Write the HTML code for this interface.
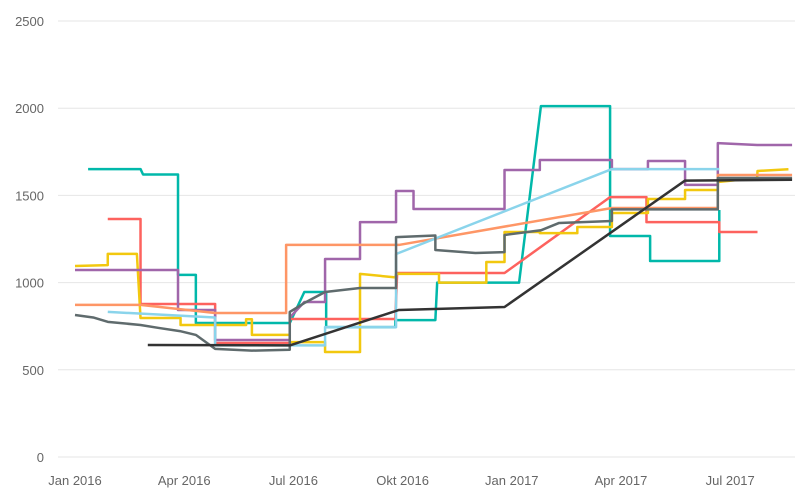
<!DOCTYPE html>
<html><head><meta charset="utf-8"><style>
body{margin:0;background:#fff;}
svg{display:block;font-family:"Liberation Sans",sans-serif;}
</style></head><body>
<svg id="chart" width="800" height="498" viewBox="0 0 800 498"></svg>
<script>
const yTicks=[0,500,1000,1500,2000,2500];
const xTickLabels=["Jan 2016","Apr 2016","Jul 2016","Okt 2016","Jan 2017","Apr 2017","Jul 2017"];
const xTickMonths=[0,3,6,9,12,15,18];
const seriesNames=["teal","red","yellow","purple","orange","lightblue","gray","black"];
const seriesColors=["#01b8aa","#fd625e","#f2c80f","#a066aa","#fe9666","#8ad4eb","#5f6b6d","#333333"];
const teal=[[0.36,1651],[1.8,1651],[1.87,1620],[2.83,1620],[2.83,1044],[3.32,1044],[3.32,768],[5.9,768],[6.3,946],[6.9,946],[6.9,745],[8.8,745],[8.8,785],[9.9,785],[9.95,1000],[12.2,1000],[12.8,2012],[14.7,2012],[14.7,1267],[15.8,1267],[15.8,1124],[17.7,1124],[17.7,1416]];
const red=[[0.9,1365],[1.8,1365],[1.8,877],[3.85,877],[3.85,654],[5.9,654],[5.9,791],[8.8,791],[8.85,1055],[11.8,1055],[14.7,1490],[15.7,1490],[15.7,1347],[17.7,1347],[17.7,1290],[18.75,1290]];
const yellow=[[0,1095],[0.9,1100],[0.9,1165],[1.7,1165],[1.8,797],[2.9,797],[2.9,757],[4.7,757],[4.7,790],[4.86,790],[4.86,700],[5.9,700],[5.9,659],[6.87,659],[6.87,602],[7.83,602],[7.83,1050],[8.8,1030],[8.82,1050],[10.0,1050],[10.0,1000],[11.3,1000],[11.3,1118],[11.8,1118],[11.8,1290],[12.77,1290],[12.77,1284],[13.8,1284],[13.8,1319],[14.75,1319],[14.75,1399],[15.74,1399],[15.74,1479],[16.76,1479],[16.76,1531],[17.66,1531],[17.66,1577],[18.74,1600],[18.75,1640],[19.6,1650]];
const purple=[[0,1072],[2.83,1072],[2.83,843],[3.85,843],[3.85,671],[5.9,671],[5.9,800],[6.3,889],[6.87,889],[6.87,1135],[7.83,1135],[7.83,1347],[8.82,1347],[8.82,1525],[9.3,1525],[9.3,1422],[11.8,1422],[11.8,1646],[12.77,1646],[12.77,1703],[14.75,1703],[14.75,1651],[15.74,1651],[15.74,1697],[16.76,1697],[16.76,1560],[17.66,1560],[17.66,1800],[18.74,1789],[19.7,1789]];
const orange=[[0,872],[1.8,872],[3.85,826],[5.8,826],[5.8,1216],[8.9,1216],[14.75,1428],[17.66,1428],[17.66,1617],[19.7,1617]];
const lightblue=[[0.9,832],[3.85,800],[3.85,640],[6.87,640],[6.87,745],[8.82,745],[8.82,1164],[14.75,1651],[17.7,1651]];
const gray=[[0,814],[0.5,800],[0.9,775],[1.8,757],[2.3,740],[2.88,722],[3.32,700],[3.85,620],[4.86,610],[5.9,615],[5.9,832],[6.3,883],[6.87,946],[7.83,969],[8.82,969],[8.82,1261],[9.9,1270],[9.9,1187],[11.0,1170],[11.8,1175],[11.8,1273],[12.8,1300],[13.3,1342],[14.75,1353],[14.75,1420],[17.66,1420],[17.66,1600],[19.7,1600]];
const black=[[2.0,642],[5.9,640],[8.9,843],[11.8,860],[16.76,1585],[19.7,1590]];
const allSeries=[teal,red,yellow,purple,orange,lightblue,gray,black];

const NS="http://www.w3.org/2000/svg";
const svg=document.getElementById("chart");
const X0=75,PXM=36.4,Y0=457,PXV=436/2500;
const xScale=m=>X0+m*PXM;
const yScale=v=>Y0-v*PXV;
function mk(t,a){const e=document.createElementNS(NS,t);for(const k in a)e.setAttribute(k,a[k]);svg.appendChild(e);return e;}
yTicks.forEach(v=>{
  const g=mk("line",{x1:58,x2:795,y1:yScale(v),y2:yScale(v),stroke:"#e6e6e6","stroke-width":1});
  
  
  const t=mk("text",{x:44,y:yScale(v)+5,"text-anchor":"end","font-size":13,fill:"#666"});
  t.textContent=v;
  
  
});
xTickLabels.forEach((l,i)=>{
  const t=mk("text",{x:xScale(xTickMonths[i]),y:485,"text-anchor":"middle","font-size":13,fill:"#666"});
  t.textContent=l;
  
  
});
allSeries.forEach((s,i)=>{
  const p=mk("polyline",{points:s.map(d=>xScale(d[0])+","+yScale(d[1])).join(" "),fill:"none",stroke:seriesColors[i],"stroke-width":2.5,"stroke-linejoin":"round"});
  
  
});
</script>
</body></html>
